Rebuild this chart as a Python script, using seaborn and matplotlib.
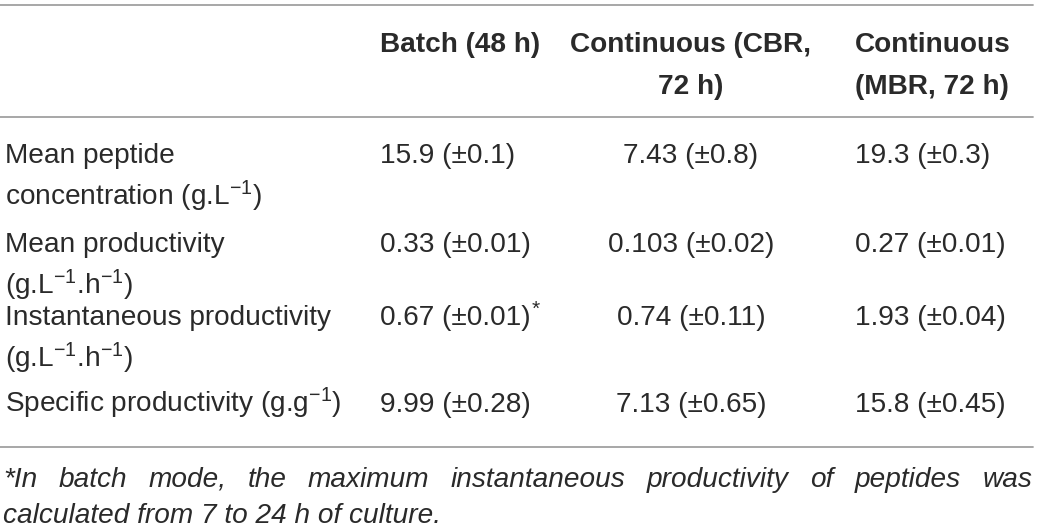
import matplotlib
matplotlib.use("Agg")
import matplotlib.pyplot as plt
import seaborn as sns

# table content
headers = ["Batch (48 h)", "Continuous (CBR,\n72 h)", "Continuous\n(MBR, 72 h)"]
row_labels = [
    "Mean peptide\nconcentration (g.L$^{-1}$)",
    "Mean productivity\n(g.L$^{-1}$.h$^{-1}$)",
    "Instantaneous productivity\n(g.L$^{-1}$.h$^{-1}$)",
    "Specific productivity (g.g$^{-1}$)",
]
batch = ["15.9 (±0.1)", "0.33 (±0.01)", "0.67 (±0.01)*", "9.99 (±0.28)"]
cbr = ["7.43 (±0.8)", "0.103 (±0.02)", "0.74 (±0.11)", "7.13 (±0.65)"]
mbr = ["19.3 (±0.3)", "0.27 (±0.01)", "1.93 (±0.04)", "15.8 (±0.45)"]
footnote = ["*In batch mode, the maximum instantaneous productivity of peptides was",
            "calculated from 7 to 24 h of culture."]

sns.set_theme(style="white")
plt.rcParams["font.family"] = ["Liberation Sans", "DejaVu Sans"]
plt.rcParams["mathtext.fontset"] = "custom"
plt.rcParams["mathtext.rm"] = "Liberation Sans"
plt.rcParams["mathtext.default"] = "regular"

txt = "#2a2a2a"
fs = 20.2
lh = 42  # line spacing in px

fig = plt.figure(figsize=(10.39, 5.29), dpi=100)
ax = fig.add_axes([0, 0, 1, 1])
ax.set_xlim(0, 1039)
ax.set_ylim(529, 0)
ax.axis("off")

# rules
for y in [5, 117, 447]:
    ax.plot([0, 1033], [y, y], color="#a0a0a0", lw=1.3)

# header
col_x = [380, 691, 855]
col_ha = ["left", "center", "left"]
for h, x, ha in zip(headers, col_x, col_ha):
    for i, line in enumerate(h.split("\n")):
        ax.text(x, 52 + i * lh, line, ha=ha, va="baseline", fontsize=fs,
                fontweight="bold", color=txt)

# body
row_y = [163, 252, 325, 412]
for label, y, a, b, c in zip(row_labels, row_y, batch, cbr, mbr):
    for i, line in enumerate(label.split("\n")):
        ax.text(5, y + i * lh, line, ha="left", va="baseline", fontsize=fs, color=txt)
    for v, x, ha in zip([a, b, c], col_x, col_ha):
        if v.endswith("*"):
            t = ax.text(x, y, v[:-1], ha=ha, va="baseline", fontsize=fs, color=txt)
            fig.canvas.draw()
            bb = t.get_window_extent()
            ax.text(bb.x1 + 1, y - 10, "*", ha="left", va="baseline",
                    fontsize=fs * 0.75, color=txt)
        else:
            ax.text(x, y, v, ha=ha, va="baseline", fontsize=fs, color=txt)

# footnote, first line justified
renderer = fig.canvas.get_renderer()
words = footnote[0].split(" ")
objs = [ax.text(0, 487, w, ha="left", va="baseline", fontsize=fs, style="italic", color=txt)
        for w in words]
widths = [o.get_window_extent(renderer).width for o in objs]
left, right = 3, 1032
gap = (right - left - sum(widths)) / (len(words) - 1)
x = left
for o, w in zip(objs, widths):
    o.set_x(x)
    x += w + gap
ax.text(3, 523, footnote[1], ha="left", va="baseline", fontsize=fs, style="italic", color=txt)

fig.savefig("out.png", dpi=100, facecolor="white")
